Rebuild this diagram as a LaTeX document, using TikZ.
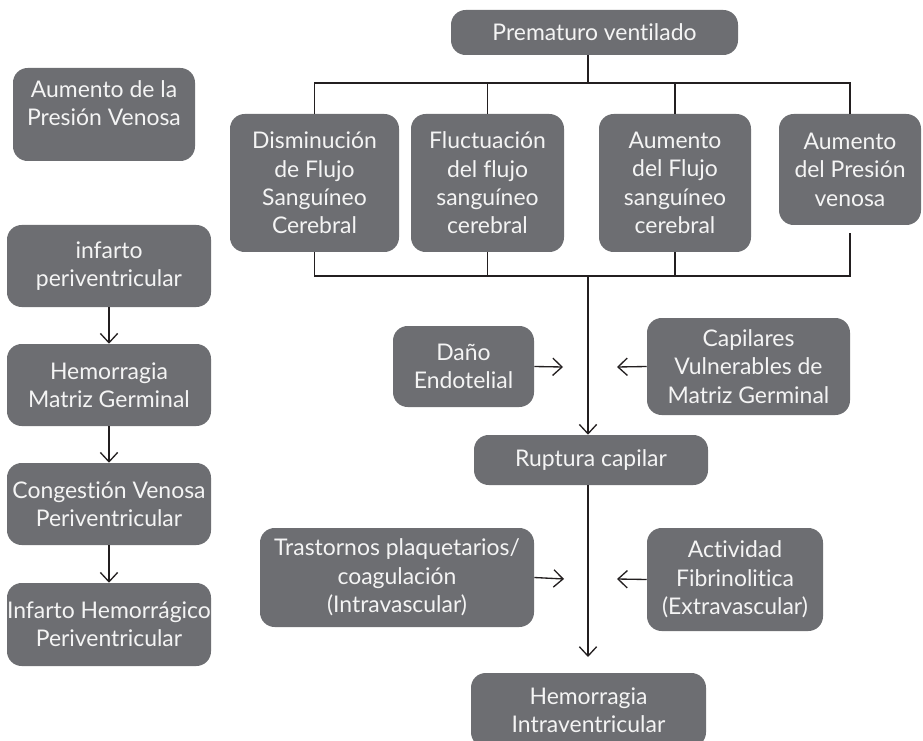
\documentclass[tikz,border=0pt]{standalone}
\usepackage{fontspec}
\setmainfont{Lato}[Ligatures={NoCommon,NoRare}]
\usetikzlibrary{arrows.meta}
\definecolor{boxgray}{RGB}{109,110,114}
\definecolor{boxtext}{RGB}{244,244,244}
\definecolor{linegray}{RGB}{35,31,32}
\tikzset{>={Straight Barb[length=7pt,width=13pt]}}
\tikzset{box/.style={fill=boxgray,text=boxtext,rounded corners=11pt,align=center,inner xsep=0pt,inner ysep=2pt,font=\fontsize{17.2}{21.3}\selectfont}}
\tikzset{conn/.style={draw=linegray,line width=1pt}}

\begin{document}
\begin{tikzpicture}[x=0.75pt,y=-0.75pt]
    \useasboundingbox (0,0) rectangle (923,741);

    \node[box,minimum width=215.25pt,minimum height=33.75pt] (pre) at (594.5,32.5) {Prematuro ventilado};
    \node[box,minimum width=136.5pt,minimum height=69.75pt,text depth=17pt] (apv) at (104,114.5) {Aumento de la\\Presión Venosa};

    \node[box,minimum width=126.75pt,minimum height=103.5pt] (dis) at (314.5,183) {Disminución\\de Flujo\\Sanguíneo\\Cerebral};
    \node[box,minimum width=114.75pt,minimum height=103.5pt] (flu) at (487.5,183) {Fluctuación\\del flujo\\sanguíneo\\cerebral};
    \node[box,minimum width=114pt,minimum height=103.5pt] (afl) at (675,183) {Aumento\\del Flujo\\sanguíneo\\cerebral};
    \node[box,minimum width=106.5pt,minimum height=83.25pt] (apr) at (850,169.5) {Aumento\\del Presión\\venosa};

    \node[box,minimum width=105.75pt,minimum height=60.75pt] (dano) at (463.5,366.5) {Daño\\Endotelial};
    \node[box,minimum width=152.25pt,minimum height=72.75pt] (cap) at (748.5,366.5) {Capilares\\Vulnerables de\\Matriz Germinal};
    \node[box,minimum width=175.5pt,minimum height=37.5pt] (rup) at (591,460) {Ruptura capilar};

    \node[box,minimum width=205.5pt,minimum height=74.25pt] (tra) at (397,577.5) {Trastornos plaquetarios/\\coagulación\\(Intravascular)};
    \node[box,minimum width=132pt,minimum height=77.25pt] (act) at (735,579.5) {Actividad\\Fibrinolitica\\(Extravascular)};
    \node[box,minimum width=176.25pt,minimum height=55.5pt] (hiv) at (588.5,710) {Hemorragia\\Intraventricular};

    \node[box,minimum width=153pt,minimum height=61.5pt] (inf) at (109,266) {infarto\\periventricular};
    \node[box,minimum width=153pt,minimum height=61.5pt] (hmg) at (109,385) {Hemorragia\\Matriz Germinal};
    \node[box,minimum width=153pt,minimum height=61.5pt] (cong) at (109,504) {Congestión Venosa\\Periventricular};
    \node[box,minimum width=153pt,minimum height=62.25pt] (ihp) at (109,624.5) {Infarto Hemorrágico\\Periventricular};

    \coordinate (top) at (588,83);
    \coordinate (bot) at (588,276);
    \coordinate (m1l) at (563,367);
    \coordinate (m1r) at (617,367);
    \coordinate (m2l) at (564,579);
    \coordinate (m2r) at (617,579);
    \coordinate (m3) at (588,657);

    \draw[conn] (pre.south -| top) -- (top);
    \draw[conn] (dis.north) -- (dis.north |- top) -- (apr.north |- top) -- (apr.north);
    \draw[conn] (flu.north) -- (flu.north |- top);
    \draw[conn] (afl.north) -- (afl.north |- top);
    \draw[conn] (dis.south) -- (dis.south |- bot) -- (apr.south |- bot) -- ([yshift=-6pt]apr.south);
    \draw[conn] (flu.south) -- (flu.south |- bot);
    \draw[conn] (afl.south) -- (afl.south |- bot);
    \draw[conn,->] (bot) -- (rup.north -| bot);

    \draw[conn,->] (dano.east) -- (m1l);
    \draw[conn,->] (cap.west) -- (m1r);
    \draw[conn,->] (rup.south -| bot) -- (m3);
    \draw[conn,->] (tra.east) -- (m2l);
    \draw[conn,->] (act.west) -- (m2r);

    \draw[conn,->] (inf) -- (hmg);
    \draw[conn,->] (hmg) -- (cong);
    \draw[conn,->] (cong) -- (ihp);
\end{tikzpicture}
\end{document}
